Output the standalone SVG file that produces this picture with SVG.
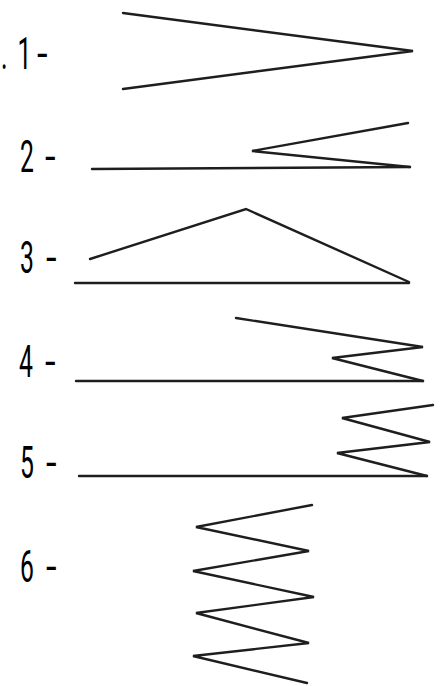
<svg xmlns="http://www.w3.org/2000/svg" width="442" height="686" viewBox="0 0 442 686">
<style>
.lbl{font-family:"Roboto","Liberation Sans",Arial,sans-serif;font-weight:400;font-size:45px;fill:#000}
.ln{fill:none;stroke:#1e1e1e;stroke-width:2.4;stroke-linejoin:miter;stroke-linecap:round}
</style>
<rect width="442" height="686" fill="#fff"/>
<g id="fig1">
<text class="lbl" transform="translate(1,69) scale(0.55,1)"><tspan x="0">.</tspan><tspan x="30">1</tspan></text>
<text class="lbl" transform="translate(37,69) scale(0.85,1)">-</text>
<polyline class="ln" points="123,13 413,51 123,89"/>
</g>
<g id="fig2">
<text class="lbl" transform="translate(20,172) scale(0.55,1)">2</text>
<text class="lbl" transform="translate(45,172) scale(0.85,1)">-</text>
<line class="ln" x1="92" y1="169" x2="410" y2="167"/>
<polyline class="ln" points="408,123 252,151 410,167"/>
</g>
<g id="fig3">
<text class="lbl" transform="translate(20,273) scale(0.55,1)">3</text>
<text class="lbl" transform="translate(46,273) scale(0.85,1)">-</text>
<line class="ln" x1="75" y1="283" x2="409" y2="283"/>
<polyline class="ln" points="90,259 246,209 409,282"/>
</g>
<g id="fig4">
<text class="lbl" transform="translate(19,377) scale(0.55,1)">4</text>
<text class="lbl" transform="translate(45,377) scale(0.85,1)">-</text>
<line class="ln" x1="76" y1="381" x2="423" y2="381"/>
<polyline class="ln" points="236,318 423,347 332,358 423,381"/>
</g>
<g id="fig5">
<text class="lbl" transform="translate(20,478) scale(0.55,1)">5</text>
<text class="lbl" transform="translate(46,478) scale(0.85,1)">-</text>
<line class="ln" x1="79" y1="476" x2="427" y2="476"/>
<polyline class="ln" points="433,405 342,418 430,442 337,453 427,476"/>
</g>
<g id="fig6">
<text class="lbl" transform="translate(20,582) scale(0.55,1)">6</text>
<text class="lbl" transform="translate(46,582) scale(0.85,1)">-</text>
<polyline class="ln" points="312,505 196,527 309,551 193,571 314,597 196,613 309,643 193,656 307,683"/>
</g>
<g id="connectors"></g>
</svg>
